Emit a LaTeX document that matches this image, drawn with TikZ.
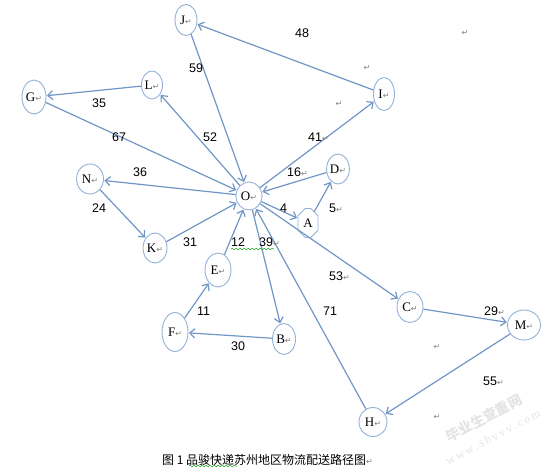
\documentclass[tikz,border=0pt]{standalone}
\usepackage{fontspec}
\setmainfont{Liberation Serif}
\newfontfamily\numfont{Liberation Sans}
\newfontfamily\symfont{DejaVu Sans}
\newfontfamily\cjkfont{Noto Sans CJK SC}
\usetikzlibrary{arrows.meta}
\usetikzlibrary{shapes.geometric}
\usetikzlibrary{shapes.misc}
\usetikzlibrary{decorations.pathmorphing}
\definecolor{edgeblue}{HTML}{6F96C6}
\definecolor{rimblue}{HTML}{92B1D6}
\definecolor{markgray}{HTML}{808080}
\definecolor{wavegreen}{HTML}{3DA83D}
\definecolor{wmgray}{HTML}{E4E4E4}
\newcommand{\retmark}{{\symfont\fontsize{8}{8}\selectfont\textcolor{markgray}{↵}}}
\tikzset{>={Straight Barb[length=5pt,width=9pt]}}
\tikzset{
    site/.style 2 args={ellipse, draw=rimblue, line width=0.9pt, minimum width=#1, minimum height=#2,
        inner sep=0pt, font=\fontsize{13}{13}\selectfont},
    corner/.style={chamfered rectangle, chamfered rectangle xsep=5pt, draw=rimblue, line width=0.9pt,
        minimum width=20pt, minimum height=29pt, inner sep=0pt, font=\fontsize{13}{13}\selectfont},
    link/.style={->, draw=edgeblue, line width=1.2pt, shorten >=0.5pt},
    weight/.style={anchor=west, inner sep=0pt, font=\numfont\fontsize{12.5}{12.5}\selectfont},
    wavy/.style={draw=wavegreen, line width=0.6pt, decorate,
        decoration={snake, amplitude=0.8pt, segment length=4pt}},
}

\begin{document}
\begin{tikzpicture}[x=1pt, y=-1pt] % delivery routes around O
	\useasboundingbox (0,0) rectangle (554,469);
	\foreach \s/\x/\y/\w/\h in {J/186/20/22/31, L/152/85/21/28, G/34/97/24/34, I/384/94/21/33,
		N/90/179/27/30, O/249/196/26/28, K/155/248/24/30, E/218/270/26/34, D/338/169/21/30,
		C/410/307/26/31, M/524/325/33/30, F/175/332/26/39, B/284/339/23/31, H/373/422/28/29}
	\node[site={\w}{\h}] (\s) at (\x,\y) {\s\retmark};
	\node[corner] (A) at (308,223) {A};
	\foreach \a/\b in {I/J, J/O, O/L, L/G, G/O, O/I, D/O, O/A, A/D, O/N, N/K, K/O,
		E/O, F/E, B/F, O/B, O/C, C/M, M/H, H/O}
	\draw[link] (\a) -- (\b);
	% route lengths
	\foreach \t/\x/\y in {48/295/33, 59/189/68, 35/92/103, 67/112/137, 52/203/137, 4/280/208,
		36/133/172, 24/92/208, 31/183/242, 12/231/242, 71/323/311, 11/197/311, 30/231/346}
	\node[weight] (w\t) at (\x,\y) {\t};
	\foreach \t/\x/\y in {41/308/137, 16/287/172, 5/329/208, 39/259/242, 53/329/276, 29/484/311, 55/483/381}
	\node[weight] (w\t) at (\x,\y) {\t\retmark};
	\foreach \i/\x/\y in {1/465/33, 2/367/68, 3/339/104, 4/437/347, 5/437/417}
	\node[inner sep=0pt] (p\i) at (\x,\y) {\retmark};
	\draw[wavy] (231,249) -- (274,249);
	\node[anchor=west, inner sep=0pt, font=\cjkfont\fontsize{12}{12}\selectfont] (cap) at (162,460)
		{图 1 品骏快递苏州地区物流配送路径图\retmark};
	\draw[wavy] (189,466) -- (237,466);
	\node[rotate=28, text=wmgray, inner sep=0pt, font=\cjkfont\bfseries\fontsize{14}{14}\selectfont] (wm) at (484,418) {毕业生查重网};
	\node[rotate=28, text=wmgray, inner sep=0pt, font=\fontsize{12}{12}\selectfont] (url) at (493,437) {w\,w\,w\,.\,s\,b\,v\,v\,v\,.\,c\,o\,m};
\end{tikzpicture}
\end{document}
